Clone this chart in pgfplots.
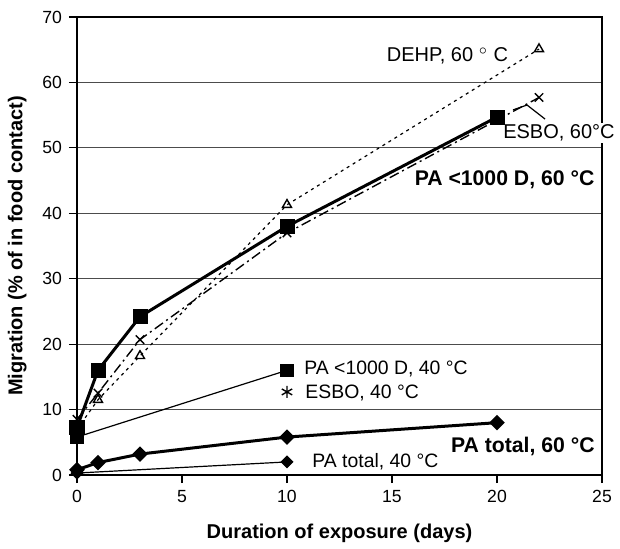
\documentclass[border=0pt]{standalone}
\usepackage{pgfplots}
\pgfplotsset{compat=1.18}
\usepackage{fontspec}
\setmainfont{Liberation Sans}

\begin{document}
\begin{tikzpicture}
\begin{axis}[
    scale only axis,
    width=262.5pt, height=229pt,
    xmin=0, xmax=25, ymin=0, ymax=70,
    xtick={0,5,...,25}, ytick={0,10,...,70},
    tick pos=left, tick align=outside,
    major tick length=4pt,
    axis line style={line width=0.9pt},
    every tick/.style={black, line width=0.6pt},
    ymajorgrids,
    grid style={line width=0.5pt, black!70},
    /pgf/number format/assume math mode=true,
    tick label style={font=\fontsize{8.8}{10}\selectfont},
    xlabel={\textbf{Duration of exposure (days)}},
    ylabel={\textbf{Migration (\% of in food contact)}},
    label style={font=\fontsize{10}{12}\selectfont},
    xlabel style={yshift=-4pt},
    ylabel style={yshift=1pt},
    clip=false,
]
% PA <1000 D, 40 C
\addplot[black, line width=0.6pt, mark=square*, mark size=3pt] coordinates {(0,5.8) (10,16)};
% ESBO, 40 C
\addplot[black, only marks, mark=asterisk, mark size=3pt, mark options={line width=0.7pt}] coordinates {(10,12.7)};
% PA total, 40 C
\addplot[black, line width=0.6pt, mark=square*, mark size=2pt, mark options={rotate=45}] coordinates {(0,0.3) (10,2.0)};
% DEHP, 60 C
\addplot[black, line width=0.6pt, dash pattern=on 1.5pt off 2pt, mark=triangle, mark size=2.6pt, mark options={solid, line width=0.7pt}] coordinates {(0,7) (1,11.5) (3,18.2) (10,41.3) (22,65.1)};
% ESBO, 60 C
\addplot[black, line width=0.7pt, dash pattern=on 5pt off 2pt on 1pt off 2pt, mark=x, mark size=3pt, mark options={solid, line width=0.7pt}] coordinates {(0,8.5) (1,12.5) (3,20.7) (10,37) (22,57.7)};
% PA <1000 D, 60 C
\addplot[black, line width=1.5pt, mark=square*, mark size=3pt] coordinates {(0,7.3) (1,16) (3,24.2) (10,38) (20,54.7)};
% PA total, 60 C
\addplot[black, line width=1.5pt, mark=square*, mark size=2pt, mark options={rotate=45}] coordinates {(0,0.8) (1,1.9) (3,3.2) (10,5.8) (20,8.0)};

\draw[black, line width=0.6pt] (axis cs:20.76,55.8) -- (axis cs:21.43,56.55) -- (axis cs:22.29,54.4);
\node[font=\fontsize{10}{12}\selectfont] at (axis cs:17.64,64.0) {DEHP, 60 $^\circ$ C};
\node[font=\fontsize{10}{12}\selectfont, fill=white, inner sep=1pt] at (axis cs:22.95,52.3) {ESBO, 60°C};
\node[font=\fontsize{10.6}{12}\selectfont\bfseries] at (axis cs:20.36,45.1) {PA <1000 D, 60 °C};
\node[font=\fontsize{9.7}{11}\selectfont, anchor=west, inner sep=0pt] at (axis cs:10.81,16.2) {PA <1000 D, 40 °C};
\node[font=\fontsize{9.7}{11}\selectfont, anchor=west, inner sep=0pt] at (axis cs:10.86,12.6) {ESBO, 40 °C};
\node[font=\fontsize{10.6}{12}\selectfont\bfseries, anchor=east, inner sep=0pt] at (axis cs:24.67,4.3) {PA total, 60 °C};
\node[font=\fontsize{9.7}{11}\selectfont, anchor=west, inner sep=0pt] at (axis cs:11.19,2.0) {PA total, 40 °C};
\end{axis}
\pgfresetboundingbox
\path (-38.5pt,-36.5pt) rectangle (271.5pt,237.5pt);
\end{tikzpicture}
\end{document}
